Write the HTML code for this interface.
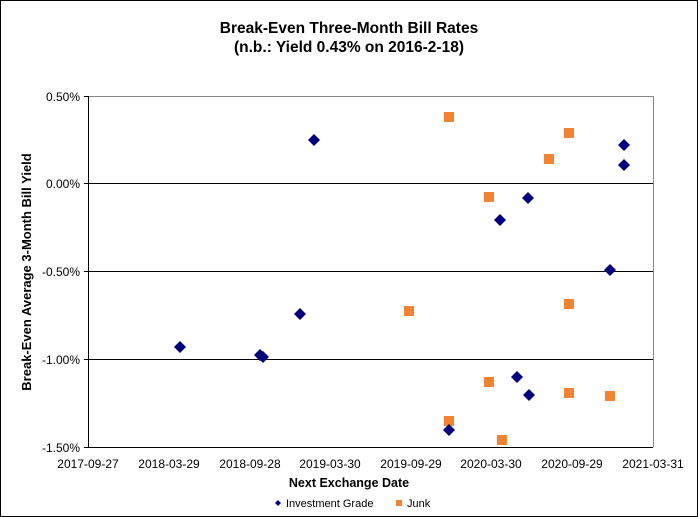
<!DOCTYPE html>
<html><head><style>body{margin:0;background:#fff}svg{display:block}text{font-family:"Liberation Sans",Arial,sans-serif}</style></head><body>
<svg width="698" height="517" xmlns="http://www.w3.org/2000/svg">
<rect x="0.5" y="0.5" width="697" height="516" fill="#fff" stroke="#000"/>
<text x="349" y="33" font-size="15.5" font-weight="bold" text-anchor="middle">Break-Even Three-Month Bill Rates</text>
<text x="349" y="52" font-size="15.5" font-weight="bold" text-anchor="middle">(n.b.: Yield 0.43% on 2016-2-18)</text>
<line x1="88" y1="96.5" x2="653" y2="96.5" stroke="#888"/>
<line x1="653.5" y1="96" x2="653.5" y2="447" stroke="#888"/>
<g stroke="#000" stroke-width="1">
<line x1="88" y1="183.5" x2="653" y2="183.5"/>
<line x1="88" y1="271.5" x2="653" y2="271.5"/>
<line x1="88" y1="359.5" x2="653" y2="359.5"/>
<line x1="88" y1="447.5" x2="653" y2="447.5"/>
<line x1="88.5" y1="96" x2="88.5" y2="448"/>
<line x1="84" y1="96.5" x2="88" y2="96.5"/><line x1="84" y1="183.5" x2="88" y2="183.5"/><line x1="84" y1="271.5" x2="88" y2="271.5"/><line x1="84" y1="359.5" x2="88" y2="359.5"/><line x1="84" y1="447.5" x2="88" y2="447.5"/>
</g>
<g font-size="12" text-anchor="end">
<text x="80" y="101">0.50%</text><text x="80" y="188">0.00%</text><text x="80" y="276">-0.50%</text><text x="80" y="364">-1.00%</text><text x="80" y="452">-1.50%</text>
</g>
<g font-size="12" text-anchor="middle">
<text x="88" y="468">2017-09-27</text><text x="169" y="468">2018-03-29</text><text x="250" y="468">2018-09-28</text><text x="330" y="468">2019-03-30</text><text x="411" y="468">2019-09-29</text><text x="491" y="468">2020-03-30</text><text x="572" y="468">2020-09-29</text><text x="653" y="468">2021-03-31</text>
</g>
<text x="349" y="487" font-size="12.5" font-weight="bold" text-anchor="middle">Next Exchange Date</text>
<text transform="translate(31,272) rotate(-90)" font-size="13" font-weight="bold" text-anchor="middle">Break-Even Average 3-Month  Bill Yield</text>
<g fill="#f5822e">
<rect x="444" y="112" width="10" height="10"/><rect x="404" y="306" width="10" height="10"/><rect x="444" y="416" width="10" height="10"/><rect x="484" y="192" width="10" height="10"/><rect x="484" y="377" width="10" height="10"/><rect x="497" y="435" width="10" height="10"/><rect x="544" y="154" width="10" height="10"/><rect x="564" y="128" width="10" height="10"/><rect x="564" y="299" width="10" height="10"/><rect x="564" y="388" width="10" height="10"/><rect x="605" y="391" width="10" height="10"/>
</g>
<g fill="#000080">
<path d="M180 341l6 6-6 6-6-6z"/><path d="M260 349l6 6-6 6-6-6z"/><path d="M263 351l6 6-6 6-6-6z"/><path d="M300 308l6 6-6 6-6-6z"/><path d="M314 134l6 6-6 6-6-6z"/><path d="M449 424l6 6-6 6-6-6z"/><path d="M500 214l6 6-6 6-6-6z"/><path d="M517 371l6 6-6 6-6-6z"/><path d="M528 192l6 6-6 6-6-6z"/><path d="M529 389l6 6-6 6-6-6z"/><path d="M610 264l6 6-6 6-6-6z"/><path d="M624 139l6 6-6 6-6-6z"/><path d="M624 159l6 6-6 6-6-6z"/>
</g>
<path d="M278 500l3 3-3 3-3-3z" fill="#000080"/>
<text x="286" y="507" font-size="11">Investment Grade</text>
<rect x="396" y="500" width="6" height="6" fill="#f5822e"/>
<text x="407" y="507" font-size="11">Junk</text>
</svg>
</body></html>
